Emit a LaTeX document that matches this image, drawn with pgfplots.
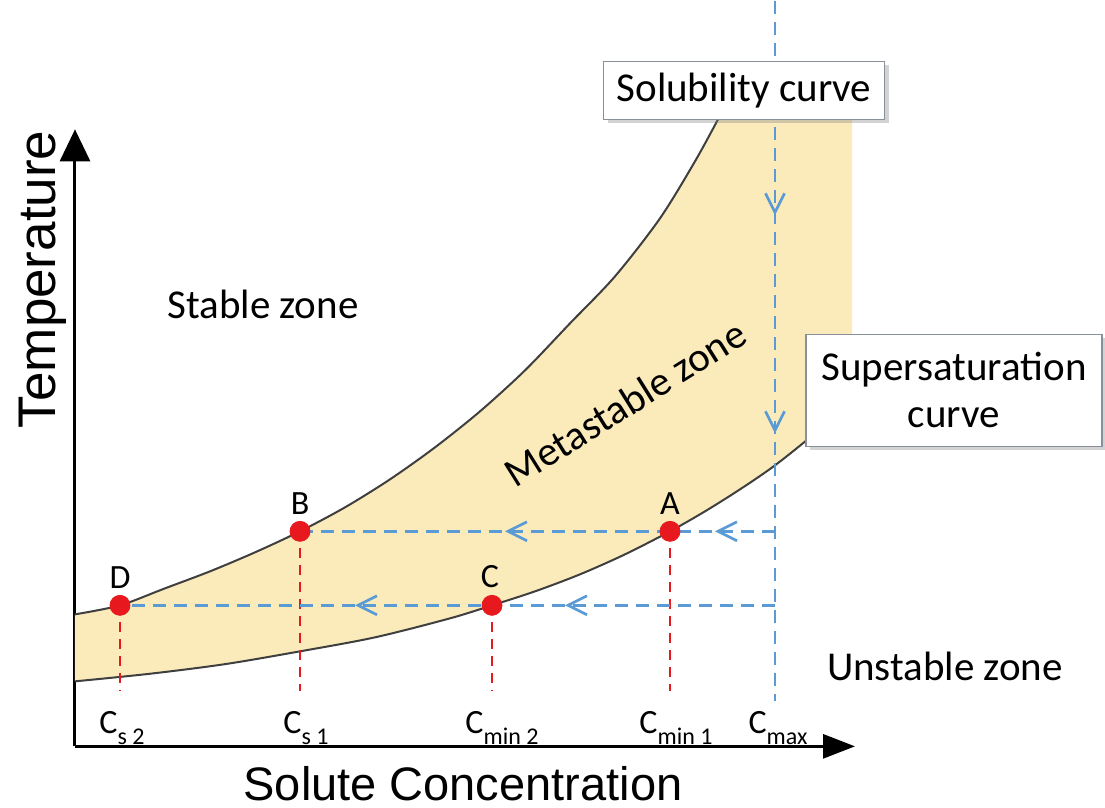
\documentclass[border=0pt]{standalone}
\usepackage{fontspec}
\setmainfont{Carlito}
\newfontfamily\arialf{Liberation Sans}
\usepackage{pgfplots}
\pgfplotsset{compat=1.18}
\usetikzlibrary{arrows.meta,decorations.markings,shadows}

\definecolor{zonefill}{HTML}{FBEBBB}
\definecolor{guideblue}{HTML}{5B9BD5}
\definecolor{ptred}{HTML}{E8191E}
\definecolor{curvegray}{HTML}{3F3F3F}
\definecolor{boxgray}{HTML}{8A9099}

\tikzset{
  chevtwo/.style 2 args={postaction={decorate},
    decoration={markings,
      mark=at position #1 with {\arrow{Straight Barb[length=9.5pt,width=9.5pt]}},
      mark=at position #2 with {\arrow{Straight Barb[length=9.5pt,width=9.5pt]}}}},
  bluedash/.style={guideblue, line width=1.35pt, dash pattern=on 6.5pt off 4pt},
  reddash/.style={ptred, line width=1.1pt, dash pattern=on 5pt off 3.5pt},
  callout/.style={draw=boxgray, line width=0.8pt, fill=white,
    drop shadow={shadow xshift=2pt, shadow yshift=-2pt, opacity=0.35}},
}
\newcommand\sub[1]{\raisebox{-0.32em}{\fontsize{12}{12}\selectfont #1}}

% curve readings (x = concentration, y = temperature, picture units)
\pgfplotstableread{
x    y
0    132
45   141
90   158
135  175
180  194
225  215
270  239
315  267
360  299
405  335
450  376
495  423
540  470
585  528
620  585
643  627
}\solubility
\pgfplotstableread{
x    y
0    65
75   72.6
150  82.2
225  95
300  109
375  128
417  141
460  155
505  172
550  192
595  215
630  235
665  257
700  281
740  313
777  345
}\supersat

\begin{document}
\begin{tikzpicture}
\begin{axis}[
    scale only axis,
    width=390pt, height=308.5pt,
    xmin=0, xmax=780, ymin=0, ymax=617,
    axis lines=left,
    x axis line style={line width=1.5pt, -{Triangle[length=16pt,width=12pt]}},
    y axis line style={line width=1.5pt, -{Triangle[length=16pt,width=15pt]}},
    xtick=\empty, ytick=\empty,
    clip=false,
  ]
% page extent
\path (axis cs:-75,-60) rectangle (axis cs:1030,745);

% metastable zone
\addplot[fill=zonefill, draw=none] coordinates {
  (0,132) (45,141) (90,158) (135,175) (180,194) (225,215) (270,239)
  (315,267) (360,299) (405,335) (450,376) (495,423) (540,470) (585,528)
  (620,585) (643,627)
  (777,627) (777,345)
  (740,313) (700,281) (665,257) (630,235) (595,215) (550,192) (505,172)
  (460,155) (417,141) (375,128) (300,109) (225,95) (150,82.2) (75,72.6)
  (0,65)} -- cycle;

% solubility and supersaturation curves
\addplot[curvegray, line width=1pt, smooth] table {\solubility};
\addplot[curvegray, line width=1pt, smooth] table {\supersat};

% red guides
\addplot[reddash] coordinates {(45,141) (45,55)};
\addplot[reddash] coordinates {(225,215) (225,55)};
\addplot[reddash] coordinates {(417,141) (417,55)};
\addplot[reddash] coordinates {(595,215) (595,55)};

% blue cooling paths
\addplot[bluedash, chevtwo={107pt}{216pt}] coordinates {(700,745) (700,45)};
\addplot[bluedash, chevtwo={30pt}{135pt}] coordinates {(700,215) (225,215)};
\addplot[bluedash, chevtwo={105pt}{210pt}] coordinates {(700,141) (45,141)};

% points
\addplot[only marks, mark=*, mark size=5pt, ptred] coordinates {
  (45,141) (225,215) (417,141) (595,215)};

\begin{scope}[every node/.style={font=\fontsize{17}{18}\selectfont}]
\node at (axis cs:45,169) {D};
\node at (axis cs:225,243) {B};
\node at (axis cs:415,170) {C};
\node at (axis cs:595,243) {A};
\end{scope}

\begin{scope}[every node/.style={font=\fontsize{17}{18}\selectfont, anchor=base}]
\node at (axis cs:47,13) {C\sub{s 2}};
\node at (axis cs:231,13) {C\sub{s 1}};
\node at (axis cs:427,13) {C\sub{min 2}};
\node at (axis cs:601,13) {C\sub{min 1}};
\node at (axis cs:703,13) {C\sub{max}};
\end{scope}

% zone texts
\begin{scope}[every node/.style={font=\fontsize{20.5}{23.5}\selectfont}]
\node at (axis cs:188,442) {Stable zone};
\node[rotate=32] at (axis cs:550,343) {Metastable zone};
\node at (axis cs:870,80) {Unstable zone};
\node[callout, minimum width=140.5pt, minimum height=29pt, inner sep=0pt]
  at (axis cs:669,656) {Solubility curve};
\node[callout, minimum width=148pt, minimum height=56pt, inner sep=0pt, align=center]
  at (axis cs:879,356) {Supersaturation\\curve};
\end{scope}

% axis titles
\node[font=\arialf\fontsize{26.5}{28}\selectfont, rotate=90] at (axis cs:-32,467) {Temperature};
\node[font=\arialf\fontsize{23.5}{26}\selectfont] at (axis cs:388,-37) {Solute Concentration};
\end{axis}
\end{tikzpicture}
\end{document}
